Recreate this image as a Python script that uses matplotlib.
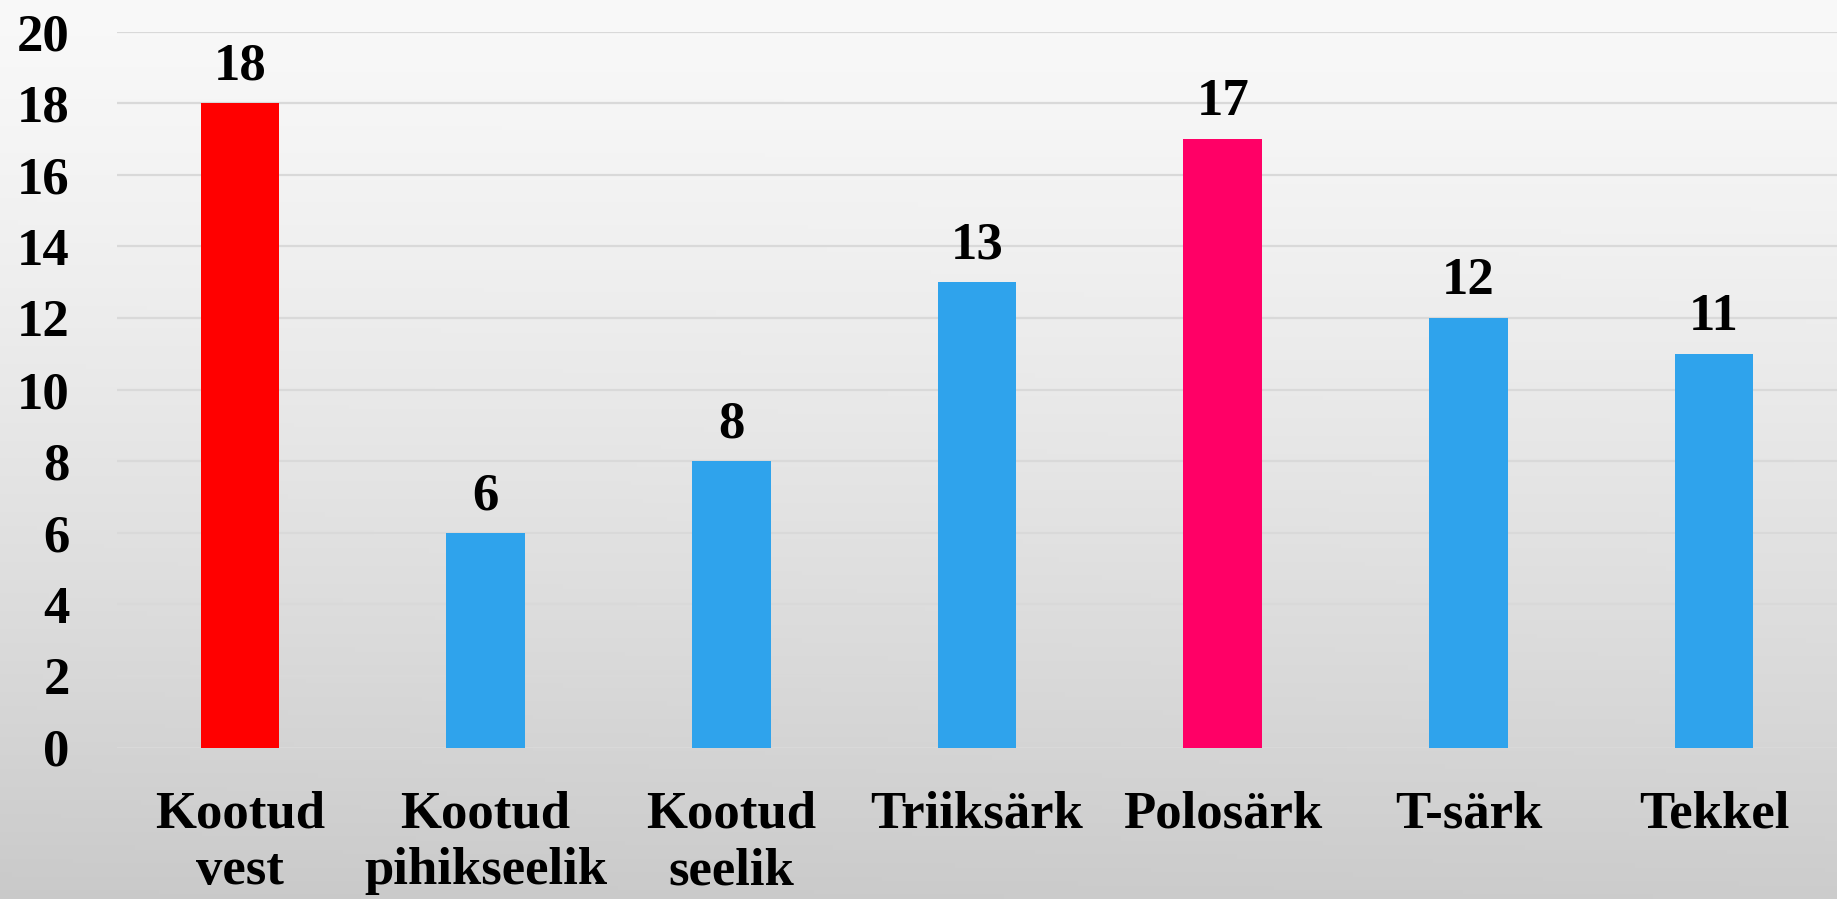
import numpy as np
import matplotlib
matplotlib.use("Agg")
import matplotlib.pyplot as plt

categories = ["Kootud\nvest", "Kootud\npihikseelik", "Kootud\nseelik", "Triiksärk", "Polosärk", "T-särk", "Tekkel"]
values = [18, 6, 8, 13, 17, 12, 11]
colors = ["#FF0000", "#2FA3EC", "#2FA3EC", "#2FA3EC", "#FF0066", "#2FA3EC", "#2FA3EC"]
yticks = [0, 2, 4, 6, 8, 10, 12, 14, 16, 18, 20]

plt.rcParams['font.family'] = ['Liberation Serif', 'DejaVu Serif']

fig = plt.figure(figsize=(18.37, 8.99), dpi=100)

# background gradient
bg = fig.add_axes([0, 0, 1, 1], zorder=-10)
h = 200
top = np.array([0.975, 0.975, 0.975])
bot = np.array([0.79, 0.79, 0.79])
t = np.linspace(0, 1, h)[:, None]
xg = np.linspace(0, 1, 300)[None, :]
shade = t**1.3 * (1 - 0.06 * xg)
grad = top[None, None, :] * (1 - shade[..., None]) + bot[None, None, :] * shade[..., None]
bg.imshow(grad, aspect='auto', extent=[0, 1, 0, 1], origin='upper')
bg.axis('off')

ax = fig.add_axes([117/1837, 151.5/899, 1 - 117/1837, (747.5 - 31.6)/899])
ax.set_facecolor('none')
x = np.arange(len(categories))
bars = ax.bar(x, values, width=0.32, color=colors, zorder=3)
for xi, v in zip(x, values):
    ax.annotate(str(v), (xi, v), xytext=(0, 9), textcoords='offset points',
                ha='center', va='bottom', fontsize=38, fontweight='bold', color='black')

ax.set_xlim(-0.5, len(categories) - 0.5)
ax.set_ylim(0, 20)
ax.set_yticks(yticks)
ax.set_yticklabels([str(v) for v in yticks], fontsize=38, fontweight='bold')
ax.set_xticks(x)
ax.set_xticklabels(categories, fontsize=38, fontweight='bold', linespacing=1.24)
ax.tick_params(axis='y', length=0, pad=34)
ax.tick_params(axis='x', length=0, pad=31)
ax.grid(axis='y', color='#d9d9d9', linewidth=1.6, zorder=0)
ax.set_axisbelow(True)
for s in ax.spines.values():
    s.set_visible(False)

fig.savefig("out.png", dpi=100)
